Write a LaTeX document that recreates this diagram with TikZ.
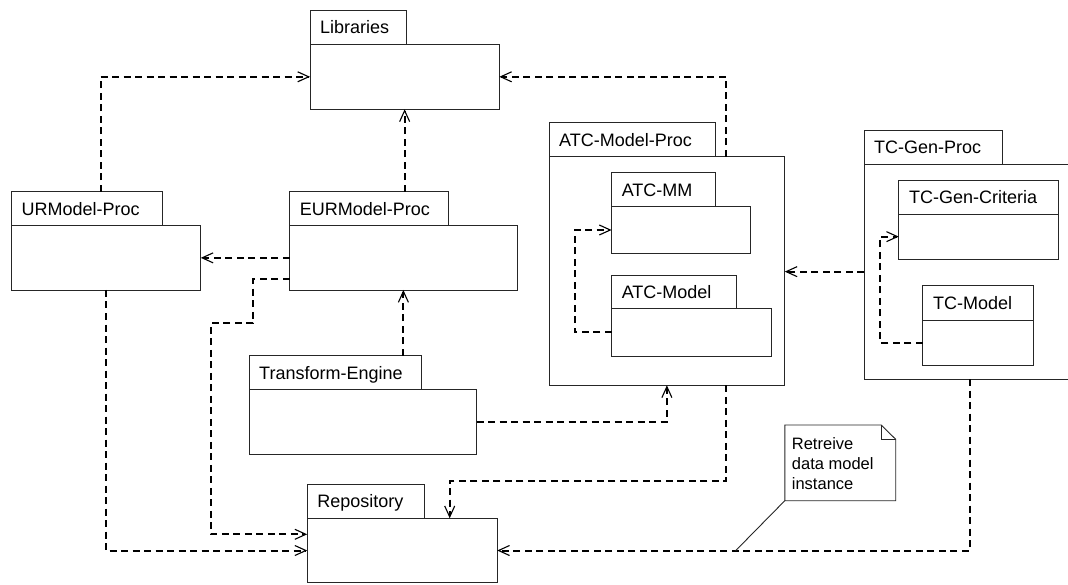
\documentclass[tikz,border=0pt]{standalone}
\usepackage{fontspec}
\setmainfont{Liberation Sans}
\usetikzlibrary{fit,arrows.meta}
\tikzset{
  pkgline/.style={draw=black!85, line width=0.9pt, inner sep=0pt, outer sep=0pt},
  pkglabel/.style={anchor=base west, inner sep=0pt, font=\fontsize{18}{20}\selectfont},
  dep/.style={draw, line width=2pt, dash pattern=on 7pt off 4.5pt,
    -{Straight Barb[length=11pt,width=10pt,line width=1.1pt]}},
  noteline/.style={draw=black!85, line width=0.9pt},
}
% UML package: name, label, left, tab top, tab right, body top, body right, body bottom
\newcommand\umlpkg[8]{%
  \node[pkgline, fit={(#3,#4) (#5,#6)}] (#1tab) {};
  \node[pkgline, fit={(#3,#6) (#7,#8)}] (#1) {};
  \node[pkglabel] (#1lbl) at ([xshift=10pt,yshift=-6.4pt]#1tab.west) {#2};
}
\begin{document}
\begin{tikzpicture}[x=1pt,y=-1pt]
\clip (0,0) rectangle (1068,585);

% packages
\umlpkg{lib}{Libraries}{310}{10.7}{406}{44.3}{499.3}{109.3}
\umlpkg{ur}{URModel-Proc}{11.4}{191.7}{162.5}{225.7}{200.8}{290}
\umlpkg{eur}{EURModel-Proc}{289.6}{191.7}{448.3}{225.7}{517.2}{290}
\umlpkg{te}{Transform-Engine}{249}{355.7}{421}{389.7}{476.6}{454}
\umlpkg{repo}{Repository}{307.2}{484}{424.6}{518.3}{497.2}{582.7}
\umlpkg{atc}{ATC-Model-Proc}{549}{122.7}{715}{156.7}{784.8}{385.3}
\umlpkg{atcmm}{ATC-MM}{611.6}{172.7}{715.6}{206.7}{750.4}{253.3}
\umlpkg{atcm}{ATC-Model}{611.6}{275}{736.3}{308.7}{771}{356}
\umlpkg{tc}{TC-Gen-Proc}{864}{130}{1002.4}{164.3}{1080}{379}
\umlpkg{crit}{TC-Gen-Criteria}{898.8}{180.3}{1058.2}{214.3}{1058.2}{259}
\umlpkg{tcm}{TC-Model}{922.9}{285.3}{1033.8}{320}{1033.8}{365}

% dependencies
\draw[dep] ([xshift=89.1pt]urtab.north west) |- (lib.west);
\draw[dep] ([xshift=177.3pt]atc.north west) |- (lib.east);
\draw[dep] (eurtab.north -| lib.south) -- (lib.south);
\draw[dep] (eur.west) -- (ur.east);
\coordinate (eb1) at (253,323.3);
\coordinate (eb2) at (210.7,323.3);
\draw[dep] ([yshift=-21.5pt]eur.west) -| (eb1) -- (eb2) |- ([yshift=16.2pt]repo.west);
\draw[dep] ([xshift=94.3pt]ur.south west) |- (repo.west);
\draw[dep] (tetab.north -| eur.south) -- (eur.south);
\draw[dep] (te.east) -| (atc.south);
\draw[dep] ([xshift=177.3pt]atc.south west) -- ++(0,96) -| ([xshift=142.5pt]repo.north west);
\draw[dep] ([xshift=105.7pt]tc.south west) |- (repo.east);
\draw[dep] (tc.west) -- (tc.west -| atc.east);
\draw[dep] (atcm.west) -- ++(-36.8,0) |- (atcmm.west);
\draw[dep] (tcm.west) -- ++(-42.7,0) |- (crit.west);

% note
\node[inner sep=0pt, outer sep=0pt, fit={(784.8,425) (895.7,500.7)}] (note) {};
\draw[noteline] (note.south west) -- (note.north west) -- ([xshift=-14.5pt]note.north east)
  -- ([yshift=-14.3pt]note.north east) -- (note.south east) -- cycle;
\draw[noteline] ([xshift=-14.5pt]note.north east) -- ([xshift=-14.5pt,yshift=-14.3pt]note.north east)
  -- ([yshift=-14.3pt]note.north east);
\node[anchor=north west, align=left, inner sep=0pt, font=\fontsize{16.5}{20}\selectfont]
  (notetext) at (791.7,437.4) {Retreive\\data model\\instance};
\coordinate (noteend) at (735.6,550.7);
\draw[noteline] (note.south west) -- (noteend);
\end{tikzpicture}
\end{document}
